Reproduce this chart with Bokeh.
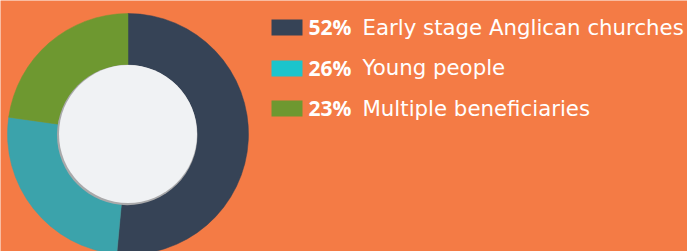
import math
from bokeh.plotting import figure
from bokeh.models import ColumnDataSource
from bokeh.core.properties import value
from bokeh.embed import file_html
from bokeh.resources import INLINE

# ---- data ----
categories = ["Early stage Anglican churches", "Young people", "Multiple beneficiaries"]
percents = [52, 26, 23]
pct_labels = ["52%", "26%", "23%"]
slice_colors = ["#364356", "#3BA3AB", "#6E9830"]
legend_colors = ["#364356", "#1CC4CC", "#6E9830"]

BG = "#F47B45"
W, H = 687, 251

p = figure(width=W, height=H, output_backend="svg", toolbar_location=None,
           x_range=(0, W), y_range=(-H, 0),
           min_border=0, background_fill_color=BG, border_fill_color=BG)
p.axis.visible = False
p.grid.visible = False
p.outline_line_color = None

# donut
total = float(sum(percents))
starts, ends = [], []
cum = 0.0
for v in percents:
    starts.append(math.pi / 2 - 2 * math.pi * cum / total)
    cum += v
    ends.append(math.pi / 2 - 2 * math.pi * cum / total)

cx, cy = 127.5, -133.5
src = ColumnDataSource(dict(x=[cx] * 3, y=[cy] * 3, start=starts, end=ends,
                            color=slice_colors))
p.wedge(x="x", y="y", radius=120.5, start_angle="start", end_angle="end",
        direction="clock", fill_color="color", line_color="color",
        line_width=0.5, source=src)

# inner disc with subtle shadow
p.circle(x=cx - 0.8, y=cy - 1.0, radius=70.2, fill_color="#A9A9AA",
         line_color=None)
p.circle(x=cx, y=cy, radius=69, fill_color="#F0F2F4", line_color=None)

# legend
row_base = [26.5, 67, 107.5]
sq_top = [19, 60, 100]
lsrc = ColumnDataSource(dict(
    left=[271] * 3, right=[302] * 3,
    top=[-t for t in sq_top], bottom=[-(t + 16) for t in sq_top],
    color=legend_colors, pct=pct_labels, cat=categories,
    px=[308] * 3, lx=[362] * 3, ty=[-b for b in row_base]))
p.quad(left="left", right="right", top="top", bottom="bottom",
       fill_color="color", line_color=None, source=lsrc)
p.text(x="px", y="ty", text="pct", source=lsrc, text_color="white",
       text_font=value("Open Sans"), text_font_style="bold",
       text_font_size="21px", text_baseline="alphabetic")
p.text(x="lx", y="ty", text="cat", source=lsrc, text_color="white",
       text_font=value("DejaVu Sans"), text_font_size="21.3px",
       text_baseline="alphabetic")

open("out.html", "w").write(file_html(p, INLINE))
